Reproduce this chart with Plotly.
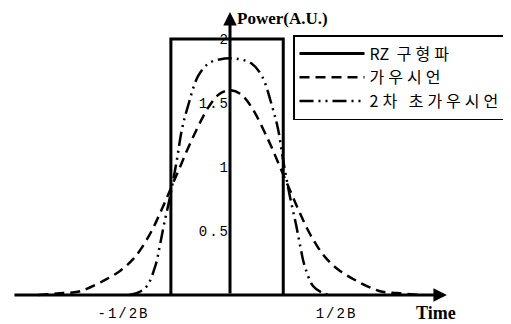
import plotly.graph_objects as go

# RZ rectangular pulse (time in units of 1/2B)
rz_t = [-0.555, -0.555, 0.5, 0.5]
rz_p = [0, 2, 2, 0]

# Gaussian pulse
gauss_t = [-1.8, -1.57, -1.43, -1.34, -1.19, -1.03, -0.91, -0.82, -0.73, -0.63, -0.49,
           -0.36, -0.2, -0.1, 0, 0.1, 0.2, 0.36, 0.49, 0.63, 0.73, 0.82, 0.91, 1.03,
           1.19, 1.34, 1.43, 1.57, 1.8]
gauss_p = [0, 0.015, 0.025, 0.05, 0.11, 0.19, 0.28, 0.38, 0.51, 0.69, 0.96,
           1.21, 1.47, 1.57, 1.6, 1.57, 1.47, 1.21, 0.96, 0.69, 0.51, 0.38, 0.28, 0.19,
           0.11, 0.05, 0.025, 0.015, 0]

# 2nd order super-Gaussian pulse
sg_t = [-0.95, -0.86, -0.78, -0.7, -0.66, -0.62, -0.56, -0.5, -0.45, -0.4, -0.3, -0.2,
        -0.1, 0, 0.1, 0.2, 0.3, 0.4, 0.45, 0.5, 0.56, 0.62, 0.66, 0.7, 0.78, 0.86, 0.95]
sg_p = [0, 0.02, 0.07, 0.23, 0.38, 0.55, 0.78, 1.05, 1.3, 1.46, 1.71, 1.81,
        1.84, 1.85, 1.84, 1.81, 1.71, 1.46, 1.3, 1.05, 0.78, 0.55, 0.38, 0.23, 0.07, 0.02, 0]

names = ["RZ 구형파", "가우시언", "2차 초가우시언"]
y_ticks = [0.5, 1, 1.5, 2]
y_ticktext = ["0.5", "1", "1.5", "2"]
x_ticks = [-1, 1]
x_ticktext = ["-1/2B", "1/2B"]

mono = "Liberation Mono"
kor = "Noto Sans CJK KR"

# the page puts the figure 8px in from the top-left corner
W, H, OFF = 503, 316, 8


def spaced(s, px=2):
    return '<span style="letter-spacing:%dpx">%s</span>' % (px, s)


legend_names = ["RZ" + spaced(names[0][2:], 4), spaced(names[1], 4), spaced(names[2], 4)]

fig = go.Figure()
fig.add_trace(go.Scatter(x=rz_t, y=rz_p, mode="lines", name=legend_names[0],
                         line=dict(color="black", width=3)))
fig.add_trace(go.Scatter(x=gauss_t, y=gauss_p, mode="lines", name=legend_names[1],
                         line=dict(color="black", width=2.5, dash="10px,6px", shape="spline")))
fig.add_trace(go.Scatter(x=sg_t, y=sg_p, mode="lines", name=legend_names[2],
                         line=dict(color="black", width=2.5, dash="14px,5px,2px,5px,2px,5px",
                                   shape="spline")))

# axes with arrow heads
fig.add_annotation(x=2.037, y=0, ax=-2.038, ay=0, axref="x", ayref="y", text="",
                   showarrow=True, arrowhead=2, arrowsize=0.9, arrowwidth=3, arrowcolor="black")
fig.add_annotation(x=0, y=2.21, ax=0, ay=0, axref="x", ayref="y", text="",
                   showarrow=True, arrowhead=2, arrowsize=0.9, arrowwidth=3, arrowcolor="black")
fig.add_annotation(x=0.06, y=(295 - OFF) / 128, text="Power(A.U.)", showarrow=False,
                   xanchor="left", yanchor="top", borderpad=0,
                   font=dict(family="Liberation Serif", size=17, color="black", weight="bold"))
fig.add_annotation(x=1.934, y=-0.14, text="Time", showarrow=False,
                   font=dict(family="Liberation Serif", size=18, color="black", weight="bold"))

fig.update_layout(
    template="none",
    width=W, height=H,
    margin=dict(l=0, r=0, t=0, b=0),
    paper_bgcolor="white", plot_bgcolor="white",
    showlegend=True,
    legend=dict(x=(293 - OFF) / W, y=1 - (35 - OFF) / H, xanchor="left", yanchor="top",
                bordercolor="black", borderwidth=1.5, bgcolor="white",
                font=dict(family=kor, size=16, color="black"), itemwidth=65),
    xaxis=dict(range=[(OFF - 230) / 106.5, (511 - 230) / 106.5], showgrid=False,
               zeroline=False, showline=False,
               tickvals=x_ticks, ticktext=[spaced(t) for t in x_ticktext], ticks="",
               anchor="free", position=1 - (295 - OFF) / H, automargin=False,
               ticklabelstandoff=8,
               tickfont=dict(family=mono, size=14, color="black")),
    yaxis=dict(range=[(295 - 324) / 128, (295 - OFF) / 128], showgrid=False,
               zeroline=False, showline=False,
               tickvals=y_ticks, ticktext=[spaced(t) for t in y_ticktext], ticks="",
               anchor="free", position=(230 - OFF) / W, automargin=False,
               tickfont=dict(family=mono, size=14, color="black")),
)

fig.write_html("out.html")
